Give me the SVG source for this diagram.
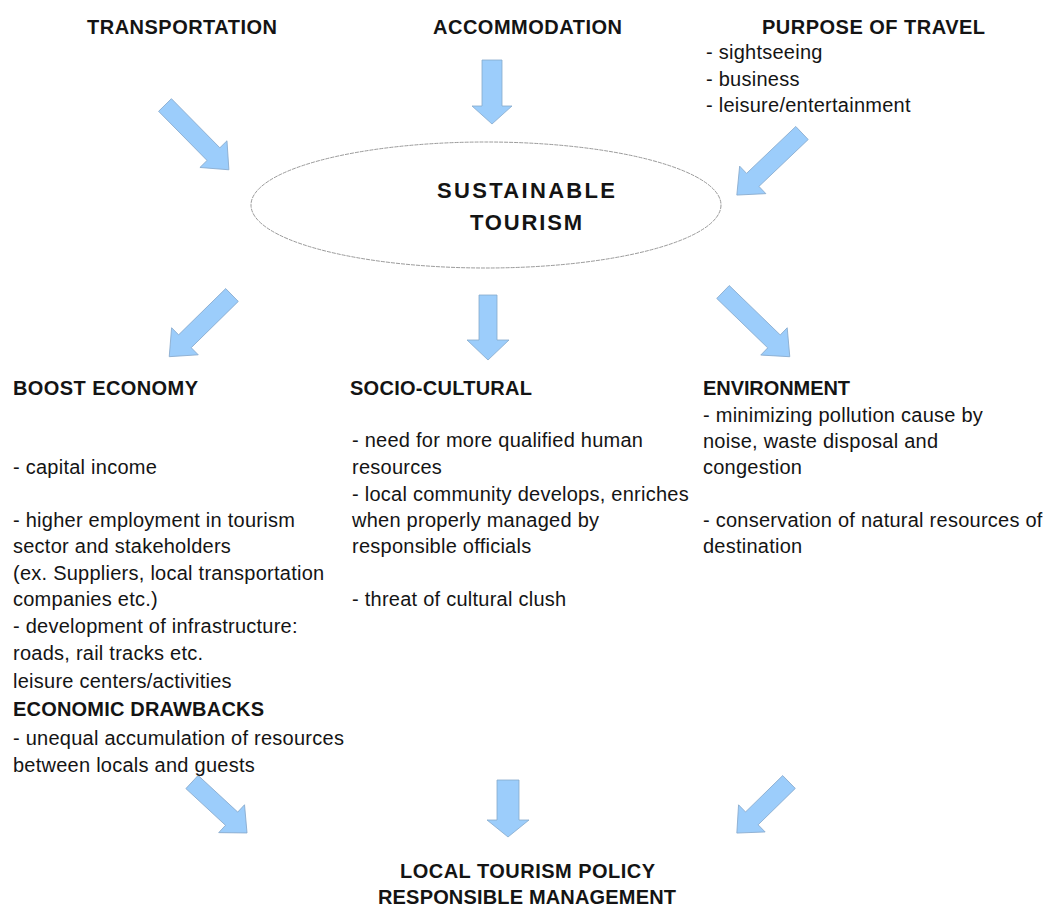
<svg xmlns="http://www.w3.org/2000/svg" width="1048" height="908" viewBox="0 0 1048 908">
<style>
text{font-family:"Liberation Sans",Arial,sans-serif;fill:#141414}
.h{font-size:20px;font-weight:bold}
.b{font-size:20px;letter-spacing:0.25px}
.c{font-size:22px;font-weight:bold;letter-spacing:2px}
.arr{fill:#9ccdfb;stroke:#86a9cc;stroke-width:0.8;stroke-linejoin:miter}
</style>
<rect width="1048" height="908" fill="#ffffff"/>
<g id="connectors">
<polygon class="arr" transform="translate(165,105) rotate(45.4)" points="0,-9 69,-9 69,-19 91,0 69,19 69,9 0,9"/>
<polygon class="arr" transform="translate(492,60) rotate(90)" points="0,-10 46,-10 46,-20 64,0 46,20 46,10 0,10"/>
<polygon class="arr" transform="translate(802,133) rotate(136.4)" points="0,-9 68,-9 68,-19 90,0 68,19 68,9 0,9"/>
<polygon class="arr" transform="translate(232,295) rotate(135.5)" points="0,-9 66,-9 66,-19 88,0 66,19 66,9 0,9"/>
<polygon class="arr" transform="translate(488,295) rotate(90)" points="0,-9 45,-9 45,-21 65,0 45,21 45,9 0,9"/>
<polygon class="arr" transform="translate(723,292) rotate(44.1)" points="0,-9 71,-9 71,-19 93,0 71,19 71,9 0,9"/>
<polygon class="arr" transform="translate(192,782) rotate(42.8)" points="0,-9 54,-9 54,-19 75,0 54,19 54,9 0,9"/>
<polygon class="arr" transform="translate(508,780) rotate(90)" points="0,-11 40,-11 40,-21 57,0 40,21 40,11 0,11"/>
<polygon class="arr" transform="translate(789,782) rotate(135.6)" points="0,-9 52,-9 52,-19 73,0 52,19 52,9 0,9"/>
</g>
<g id="transportation"><text class="h" x="87" y="34" textLength="190">TRANSPORTATION</text></g>
<g id="accommodation"><text class="h" x="433" y="34" textLength="189">ACCOMMODATION</text></g>
<g id="purpose">
<text class="h" x="762" y="34" textLength="223">PURPOSE OF TRAVEL</text>
<text class="b" x="706" y="59">- sightseeing</text>
<text class="b" x="706" y="86">- business</text>
<text class="b" x="706" y="112">- leisure/entertainment</text>
</g>
<g id="sustainable">
<ellipse cx="486" cy="205" rx="235" ry="63" fill="#ffffff" stroke="#9a9a9a" stroke-width="1" stroke-dasharray="4 1"/>
<text class="c" x="437" y="198" textLength="180">SUSTAINABLE</text>
<text class="c" x="470" y="230" textLength="114">TOURISM</text>
</g>
<g id="economy">
<text class="h" x="13" y="395" textLength="185">BOOST ECONOMY</text>
<text class="b" x="13" y="474">- capital income</text>
<text class="b" x="13" y="527">- higher employment in tourism</text>
<text class="b" x="13" y="553">sector and stakeholders</text>
<text class="b" x="13" y="580">(ex. Suppliers, local transportation</text>
<text class="b" x="13" y="606">companies etc.)</text>
<text class="b" x="13" y="633">- development of infrastructure:</text>
<text class="b" x="13" y="660">roads, rail tracks etc.</text>
<text class="b" x="13" y="688">leisure centers/activities</text>
<text class="h" x="13" y="716" textLength="251">ECONOMIC DRAWBACKS</text>
<text class="b" x="13" y="745">- unequal accumulation of resources</text>
<text class="b" x="13" y="772">between locals and guests</text>
</g>
<g id="sociocultural">
<text class="h" x="350" y="395" textLength="182">SOCIO-CULTURAL</text>
<text class="b" x="352" y="447">- need for more qualified human</text>
<text class="b" x="352" y="474">resources</text>
<text class="b" x="352" y="501">- local community develops, enriches</text>
<text class="b" x="352" y="527">when properly managed by</text>
<text class="b" x="352" y="553">responsible officials</text>
<text class="b" x="352" y="606">- threat of cultural clush</text>
</g>
<g id="environment">
<text class="h" x="703" y="395" textLength="147">ENVIRONMENT</text>
<text class="b" x="703" y="422">- minimizing pollution cause by</text>
<text class="b" x="703" y="448">noise, waste disposal and</text>
<text class="b" x="703" y="474">congestion</text>
<text class="b" x="703" y="527">- conservation of natural resources of</text>
<text class="b" x="703" y="553">destination</text>
</g>
<g id="policy">
<text class="h" x="400" y="878" textLength="255">LOCAL TOURISM POLICY</text>
<text class="h" x="378" y="904" textLength="298">RESPONSIBLE MANAGEMENT</text>
</g>
</svg>
